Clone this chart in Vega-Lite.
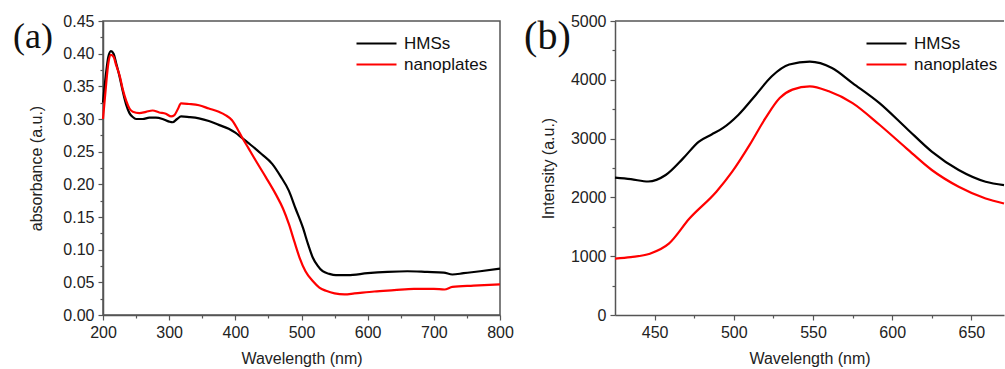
{
  "$schema": "https://vega.github.io/schema/vega-lite/v6.json",
  "background": "white",
  "padding": {"left": 12, "top": 12, "right": 0, "bottom": 0},
  "spacing": 9,
  "resolve": {"scale": {"color": "independent"}, "legend": {"color": "independent"}},
  "config": {
    "font": "Liberation Sans",
    "view": {"stroke": "#555555", "strokeWidth": 1.5},
    "axis": {
      "domainColor": "#555555", "domainWidth": 1.5,
      "tickColor": "#555555", "tickWidth": 1.2,
      "labelColor": "#222222", "titleColor": "#222222",
      "labelFont": "Liberation Sans", "titleFont": "Liberation Sans",
      "labelFontSize": 16, "titleFontSize": 16, "titleFontWeight": "normal",
      "labelPadding": 4, "grid": false, "labelOverlap": false, "labelFlush": false
    },
    "legend": {
      "orient": "none", "legendX": 262, "legendY": 11, "padding": 0,
      "symbolType": "M-2,0H2", "symbolSize": 400, "symbolStrokeWidth": 2.2,
      "labelFont": "Liberation Sans", "labelFontSize": 17, "labelColor": "#111111",
      "labelOffset": 16, "rowPadding": 1
    }
  },
  "datasets": {
    "abs": [
      {"wl": 200, "v": 0.325, "s": "HMSs"}, {"wl": 204, "v": 0.365, "s": "HMSs"}, {"wl": 208, "v": 0.395, "s": "HMSs"},
      {"wl": 212, "v": 0.404, "s": "HMSs"}, {"wl": 216, "v": 0.4, "s": "HMSs"}, {"wl": 220, "v": 0.385, "s": "HMSs"},
      {"wl": 225, "v": 0.365, "s": "HMSs"}, {"wl": 230, "v": 0.342, "s": "HMSs"}, {"wl": 235, "v": 0.322, "s": "HMSs"},
      {"wl": 240, "v": 0.309, "s": "HMSs"}, {"wl": 245, "v": 0.303, "s": "HMSs"}, {"wl": 250, "v": 0.3, "s": "HMSs"},
      {"wl": 260, "v": 0.3, "s": "HMSs"}, {"wl": 270, "v": 0.302, "s": "HMSs"}, {"wl": 280, "v": 0.302, "s": "HMSs"},
      {"wl": 290, "v": 0.3, "s": "HMSs"}, {"wl": 300, "v": 0.296, "s": "HMSs"}, {"wl": 305, "v": 0.295, "s": "HMSs"},
      {"wl": 312, "v": 0.3, "s": "HMSs"}, {"wl": 318, "v": 0.304, "s": "HMSs"}, {"wl": 330, "v": 0.303, "s": "HMSs"},
      {"wl": 345, "v": 0.301, "s": "HMSs"}, {"wl": 360, "v": 0.297, "s": "HMSs"}, {"wl": 375, "v": 0.291, "s": "HMSs"},
      {"wl": 390, "v": 0.285, "s": "HMSs"}, {"wl": 400, "v": 0.279, "s": "HMSs"}, {"wl": 410, "v": 0.271, "s": "HMSs"},
      {"wl": 420, "v": 0.263, "s": "HMSs"}, {"wl": 431, "v": 0.254, "s": "HMSs"}, {"wl": 440, "v": 0.246, "s": "HMSs"},
      {"wl": 456, "v": 0.231, "s": "HMSs"}, {"wl": 468, "v": 0.213, "s": "HMSs"}, {"wl": 481, "v": 0.19, "s": "HMSs"},
      {"wl": 491, "v": 0.163, "s": "HMSs"}, {"wl": 502, "v": 0.134, "s": "HMSs"}, {"wl": 510, "v": 0.108, "s": "HMSs"},
      {"wl": 517, "v": 0.088, "s": "HMSs"}, {"wl": 524, "v": 0.076, "s": "HMSs"}, {"wl": 532, "v": 0.067, "s": "HMSs"},
      {"wl": 542, "v": 0.063, "s": "HMSs"}, {"wl": 552, "v": 0.061, "s": "HMSs"}, {"wl": 570, "v": 0.061, "s": "HMSs"},
      {"wl": 600, "v": 0.064, "s": "HMSs"}, {"wl": 630, "v": 0.066, "s": "HMSs"}, {"wl": 660, "v": 0.067, "s": "HMSs"},
      {"wl": 690, "v": 0.066, "s": "HMSs"}, {"wl": 715, "v": 0.065, "s": "HMSs"}, {"wl": 728, "v": 0.062, "s": "HMSs"},
      {"wl": 745, "v": 0.064, "s": "HMSs"}, {"wl": 770, "v": 0.067, "s": "HMSs"}, {"wl": 800, "v": 0.071, "s": "HMSs"},
      {"wl": 200, "v": 0.3, "s": "nanoplates"}, {"wl": 204, "v": 0.345, "s": "nanoplates"}, {"wl": 208, "v": 0.385, "s": "nanoplates"},
      {"wl": 212, "v": 0.398, "s": "nanoplates"}, {"wl": 216, "v": 0.395, "s": "nanoplates"}, {"wl": 220, "v": 0.382, "s": "nanoplates"},
      {"wl": 225, "v": 0.367, "s": "nanoplates"}, {"wl": 230, "v": 0.345, "s": "nanoplates"}, {"wl": 235, "v": 0.328, "s": "nanoplates"},
      {"wl": 240, "v": 0.316, "s": "nanoplates"}, {"wl": 245, "v": 0.311, "s": "nanoplates"}, {"wl": 255, "v": 0.309, "s": "nanoplates"},
      {"wl": 265, "v": 0.311, "s": "nanoplates"}, {"wl": 275, "v": 0.313, "s": "nanoplates"}, {"wl": 285, "v": 0.31, "s": "nanoplates"},
      {"wl": 295, "v": 0.308, "s": "nanoplates"}, {"wl": 303, "v": 0.304, "s": "nanoplates"}, {"wl": 308, "v": 0.306, "s": "nanoplates"},
      {"wl": 313, "v": 0.315, "s": "nanoplates"}, {"wl": 318, "v": 0.324, "s": "nanoplates"}, {"wl": 330, "v": 0.323, "s": "nanoplates"},
      {"wl": 345, "v": 0.321, "s": "nanoplates"}, {"wl": 360, "v": 0.316, "s": "nanoplates"}, {"wl": 375, "v": 0.311, "s": "nanoplates"},
      {"wl": 385, "v": 0.306, "s": "nanoplates"}, {"wl": 395, "v": 0.298, "s": "nanoplates"}, {"wl": 403, "v": 0.285, "s": "nanoplates"},
      {"wl": 410, "v": 0.272, "s": "nanoplates"}, {"wl": 420, "v": 0.255, "s": "nanoplates"}, {"wl": 431, "v": 0.236, "s": "nanoplates"},
      {"wl": 446, "v": 0.211, "s": "nanoplates"}, {"wl": 461, "v": 0.185, "s": "nanoplates"}, {"wl": 472, "v": 0.163, "s": "nanoplates"},
      {"wl": 481, "v": 0.139, "s": "nanoplates"}, {"wl": 489, "v": 0.113, "s": "nanoplates"}, {"wl": 497, "v": 0.088, "s": "nanoplates"},
      {"wl": 506, "v": 0.067, "s": "nanoplates"}, {"wl": 517, "v": 0.052, "s": "nanoplates"}, {"wl": 527, "v": 0.042, "s": "nanoplates"},
      {"wl": 537, "v": 0.037, "s": "nanoplates"}, {"wl": 550, "v": 0.033, "s": "nanoplates"}, {"wl": 565, "v": 0.0316, "s": "nanoplates"},
      {"wl": 580, "v": 0.033, "s": "nanoplates"}, {"wl": 610, "v": 0.036, "s": "nanoplates"}, {"wl": 640, "v": 0.038, "s": "nanoplates"},
      {"wl": 670, "v": 0.04, "s": "nanoplates"}, {"wl": 700, "v": 0.04, "s": "nanoplates"}, {"wl": 716, "v": 0.039, "s": "nanoplates"},
      {"wl": 728, "v": 0.043, "s": "nanoplates"}, {"wl": 760, "v": 0.045, "s": "nanoplates"}, {"wl": 800, "v": 0.047, "s": "nanoplates"}
    ],
    "pl": [
      {"wl": 425, "v": 2335, "s": "HMSs"}, {"wl": 435, "v": 2310, "s": "HMSs"}, {"wl": 446, "v": 2270, "s": "HMSs"},
      {"wl": 457, "v": 2381, "s": "HMSs"}, {"wl": 468, "v": 2664, "s": "HMSs"}, {"wl": 478, "v": 2950, "s": "HMSs"},
      {"wl": 486, "v": 3070, "s": "HMSs"}, {"wl": 493, "v": 3177, "s": "HMSs"}, {"wl": 503, "v": 3406, "s": "HMSs"},
      {"wl": 514, "v": 3747, "s": "HMSs"}, {"wl": 524, "v": 4060, "s": "HMSs"}, {"wl": 535, "v": 4260, "s": "HMSs"},
      {"wl": 548, "v": 4310, "s": "HMSs"}, {"wl": 562, "v": 4202, "s": "HMSs"}, {"wl": 575, "v": 3945, "s": "HMSs"},
      {"wl": 592, "v": 3604, "s": "HMSs"}, {"wl": 609, "v": 3177, "s": "HMSs"}, {"wl": 625, "v": 2779, "s": "HMSs"},
      {"wl": 642, "v": 2466, "s": "HMSs"}, {"wl": 659, "v": 2267, "s": "HMSs"}, {"wl": 670.6, "v": 2210, "s": "HMSs"},
      {"wl": 425, "v": 960, "s": "nanoplates"}, {"wl": 435, "v": 985, "s": "nanoplates"}, {"wl": 447, "v": 1042, "s": "nanoplates"},
      {"wl": 459, "v": 1213, "s": "nanoplates"}, {"wl": 472, "v": 1640, "s": "nanoplates"}, {"wl": 489, "v": 2096, "s": "nanoplates"},
      {"wl": 499, "v": 2437, "s": "nanoplates"}, {"wl": 510, "v": 2893, "s": "nanoplates"}, {"wl": 520, "v": 3348, "s": "nanoplates"},
      {"wl": 529, "v": 3689, "s": "nanoplates"}, {"wl": 537, "v": 3833, "s": "nanoplates"}, {"wl": 548, "v": 3889, "s": "nanoplates"},
      {"wl": 560, "v": 3804, "s": "nanoplates"}, {"wl": 575, "v": 3604, "s": "nanoplates"}, {"wl": 592, "v": 3235, "s": "nanoplates"},
      {"wl": 609, "v": 2835, "s": "nanoplates"}, {"wl": 625, "v": 2466, "s": "nanoplates"}, {"wl": 642, "v": 2181, "s": "nanoplates"},
      {"wl": 659, "v": 1981, "s": "nanoplates"}, {"wl": 670.6, "v": 1896, "s": "nanoplates"}
    ]
  },
  "hconcat": [
    {
      "width": 397,
      "height": 294,
      "layer": [
        {
          "data": {"name": "abs"},
          "mark": {"type": "line", "strokeWidth": 2.2, "interpolate": "monotone"},
          "encoding": {
            "x": {
              "field": "wl", "type": "quantitative",
              "scale": {"domain": [200, 800], "nice": false, "zero": false},
              "axis": {
                "title": "Wavelength (nm)", "titlePadding": 10,
                "values": [200, 250, 300, 350, 400, 450, 500, 550, 600, 650, 700, 750, 800],
                "labelExpr": "datum.value % 100 === 0 ? datum.label : ''",
                "tickSize": {"condition": {"test": "datum.value % 100 === 0", "value": 5}, "value": 3}
              }
            },
            "y": {
              "field": "v", "type": "quantitative",
              "scale": {"domain": [0, 0.45], "nice": false},
              "axis": {
                "title": "absorbance (a.u.)", "titlePadding": 18, "format": ".2f",
                "values": [0, 0.025, 0.05, 0.075, 0.1, 0.125, 0.15, 0.175, 0.2, 0.225, 0.25, 0.275, 0.3, 0.325, 0.35, 0.375, 0.4, 0.425, 0.45],
                "labelExpr": "round(datum.value * 1000) % 50 === 0 ? datum.label : ''",
                "tickSize": {"condition": {"test": "round(datum.value * 1000) % 50 === 0", "value": 5}, "value": 3}
              }
            },
            "color": {
              "field": "s", "type": "nominal",
              "scale": {"domain": ["HMSs", "nanoplates"], "range": ["#000000", "#ff0000"]},
              "legend": {"title": null}
            }
          }
        },
        {
          "data": {"values": [{"label": "(a)"}]},
          "mark": {"type": "text", "font": "Liberation Serif", "fontSize": 36, "align": "left", "baseline": "alphabetic", "color": "#111111"},
          "encoding": {
            "text": {"field": "label"},
            "x": {
              "datum": 64, "type": "quantitative",
              "scale": {"domain": [200, 800], "nice": false, "zero": false},
              "axis": {
                "title": "Wavelength (nm)", "titlePadding": 10,
                "values": [200, 250, 300, 350, 400, 450, 500, 550, 600, 650, 700, 750, 800],
                "labelExpr": "datum.value % 100 === 0 ? datum.label : ''",
                "tickSize": {"condition": {"test": "datum.value % 100 === 0", "value": 5}, "value": 3}
              }
            },
            "y": {
              "datum": 0.4087, "type": "quantitative",
              "scale": {"domain": [0, 0.45], "nice": false},
              "axis": {
                "title": "absorbance (a.u.)", "titlePadding": 18, "format": ".2f",
                "values": [0, 0.025, 0.05, 0.075, 0.1, 0.125, 0.15, 0.175, 0.2, 0.225, 0.25, 0.275, 0.3, 0.325, 0.35, 0.375, 0.4, 0.425, 0.45],
                "labelExpr": "round(datum.value * 1000) % 50 === 0 ? datum.label : ''",
                "tickSize": {"condition": {"test": "round(datum.value * 1000) % 50 === 0", "value": 5}, "value": 3}
              }
            }
          }
        }
      ]
    },
    {
      "width": 389,
      "height": 294,
      "view": {"stroke": null},
      "layer": [
        {
          "data": {"name": "pl"},
          "mark": {"type": "line", "strokeWidth": 2.2, "interpolate": "monotone"},
          "encoding": {
            "x": {
              "field": "wl", "type": "quantitative",
              "scale": {"domain": [425, 670.6], "nice": false, "zero": false},
              "axis": {
                "title": "Wavelength (nm)", "titlePadding": 10,
                "values": [450, 475, 500, 525, 550, 575, 600, 625, 650],
                "labelExpr": "datum.value % 50 === 0 ? datum.label : ''",
                "tickSize": {"condition": {"test": "datum.value % 50 === 0", "value": 5}, "value": 3}
              }
            },
            "y": {
              "field": "v", "type": "quantitative",
              "scale": {"domain": [0, 5000], "nice": false},
              "axis": {
                "title": "Intensity (a.u.)", "titlePadding": 14,
                "values": [0, 500, 1000, 1500, 2000, 2500, 3000, 3500, 4000, 4500, 5000],
                "labelExpr": "datum.value % 1000 === 0 ? datum.label : ''",
                "format": "d",
                "tickSize": {"condition": {"test": "datum.value % 1000 === 0", "value": 5}, "value": 3}
              }
            },
            "color": {
              "field": "s", "type": "nominal",
              "scale": {"domain": ["HMSs", "nanoplates"], "range": ["#000000", "#ff0000"]},
              "legend": {"title": null, "legendX": 260}
            }
          }
        },
        {
          "data": {"values": [{"edge": 5000}]},
          "mark": {"type": "rule", "color": "#555555", "strokeWidth": 1.5},
          "encoding": {
            "y": {
              "field": "edge", "type": "quantitative",
              "scale": {"domain": [0, 5000], "nice": false},
              "axis": {
                "title": "Intensity (a.u.)", "titlePadding": 14,
                "values": [0, 500, 1000, 1500, 2000, 2500, 3000, 3500, 4000, 4500, 5000],
                "labelExpr": "datum.value % 1000 === 0 ? datum.label : ''",
                "format": "d",
                "tickSize": {"condition": {"test": "datum.value % 1000 === 0", "value": 5}, "value": 3}
              }
            }
          }
        },
        {
          "data": {"values": [{"label": "(b)"}]},
          "mark": {"type": "text", "font": "Liberation Serif", "fontSize": 40, "align": "left", "baseline": "alphabetic", "color": "#111111"},
          "encoding": {
            "text": {"field": "label"},
            "x": {
              "datum": 367.6, "type": "quantitative",
              "scale": {"domain": [425, 670.6], "nice": false, "zero": false},
              "axis": {
                "title": "Wavelength (nm)", "titlePadding": 10,
                "values": [450, 475, 500, 525, 550, 575, 600, 625, 650],
                "labelExpr": "datum.value % 50 === 0 ? datum.label : ''",
                "tickSize": {"condition": {"test": "datum.value % 50 === 0", "value": 5}, "value": 3}
              }
            },
            "y": {
              "datum": 4522, "type": "quantitative",
              "scale": {"domain": [0, 5000], "nice": false},
              "axis": {
                "title": "Intensity (a.u.)", "titlePadding": 14,
                "values": [0, 500, 1000, 1500, 2000, 2500, 3000, 3500, 4000, 4500, 5000],
                "labelExpr": "datum.value % 1000 === 0 ? datum.label : ''",
                "format": "d",
                "tickSize": {"condition": {"test": "datum.value % 1000 === 0", "value": 5}, "value": 3}
              }
            }
          }
        }
      ]
    }
  ]
}
